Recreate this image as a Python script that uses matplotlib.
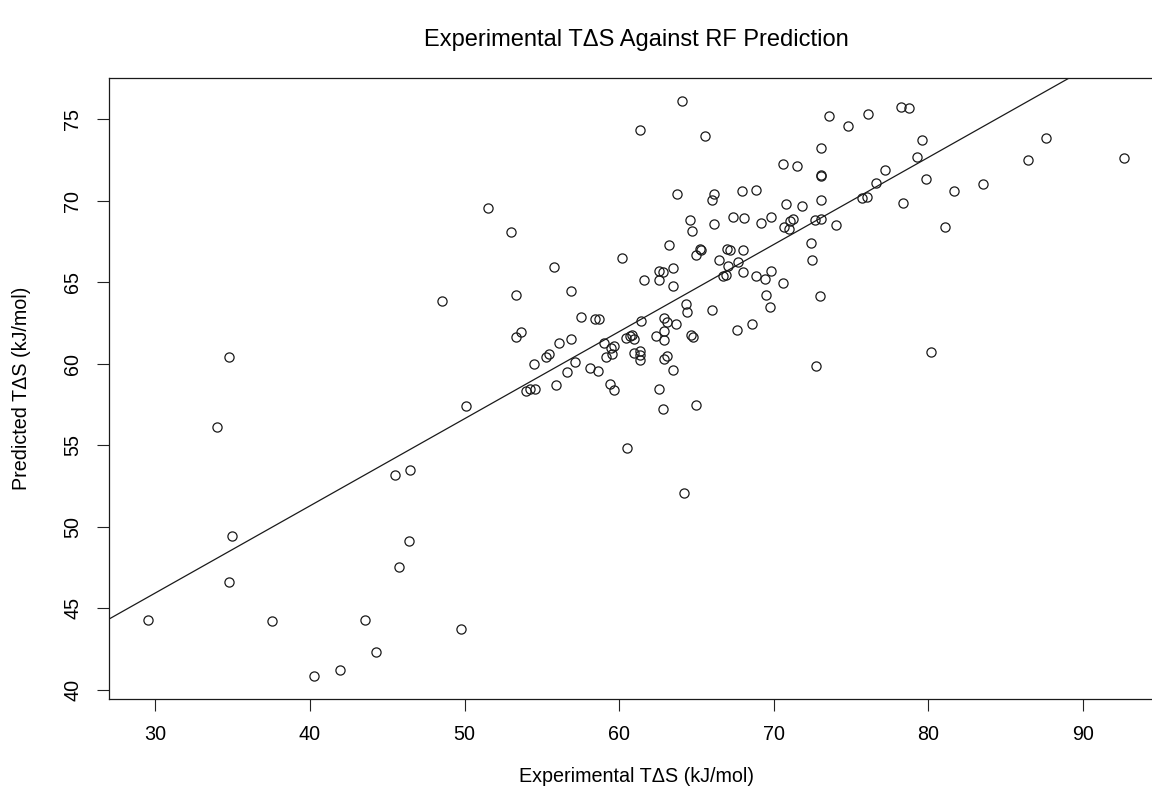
import matplotlib
matplotlib.use("Agg")
import matplotlib.pyplot as plt
import numpy as np

plt.rcParams['font.family'] = ['Liberation Sans', 'DejaVu Sans']

# Experimental TΔS (kJ/mol)
exp_tds = [
    51.55, 53.03, 48.57, 34.79, 33.97, 50.10, 45.51, 46.50, 34.94, 46.44,
    34.75, 45.79, 29.51, 37.53, 43.57, 49.78, 44.26, 41.93, 40.25,
    64.07, 61.38, 65.58, 73.56, 73.07, 70.61, 71.53, 73.04, 73.05, 63.77,
    66.16, 66.02, 67.98, 68.84, 73.04, 70.78, 71.86, 64.61, 64.70, 66.14,
    67.35, 68.09, 69.18, 69.85, 70.69, 71.00, 71.06, 71.26, 72.65, 73.07,
    63.21, 65.25, 65.30, 65.00, 67.00, 67.15, 68.00, 72.42, 72.50, 66.49,
    67.02, 67.67, 66.75, 66.90, 68.00, 68.84, 69.46, 69.85, 70.63, 73.02,
    69.48, 69.77, 60.19, 55.81, 53.34, 56.91, 61.59, 62.59, 62.60, 62.85,
    63.49, 63.47, 57.52, 58.45, 58.70, 61.44, 64.35, 64.37, 65.99, 68.60,
    62.89, 63.08, 63.69, 67.63, 53.34, 53.64, 56.09, 56.90, 59.00, 59.50,
    59.70, 59.55, 59.18, 60.47, 60.84, 60.94, 60.73, 62.39, 62.91, 62.91,
    64.65, 64.80, 60.99, 61.38, 61.38, 61.38, 62.90, 63.10, 63.47, 54.50,
    55.30, 55.49, 57.13, 56.61, 58.10, 58.64, 54.00, 54.26, 54.57, 55.90,
    59.44, 59.70, 62.59, 62.87, 65.00, 72.74, 60.54, 64.22,
    74.81, 76.13, 78.26, 78.76, 79.60, 87.64, 79.30, 86.47, 92.68, 77.23,
    76.64, 79.88, 83.54, 81.64, 75.74, 76.06, 78.39, 74.06, 81.06, 80.18,
]

# Predicted TΔS (kJ/mol)
pred_tds = [
    69.54, 68.07, 63.82, 60.43, 56.13, 57.42, 53.19, 53.47, 49.39, 49.11,
    46.61, 47.50, 44.29, 44.23, 44.27, 43.72, 42.33, 41.22, 40.86,
    76.13, 74.32, 73.99, 75.19, 73.21, 72.23, 72.13, 71.60, 71.50, 70.40,
    70.40, 70.03, 70.58, 70.64, 70.01, 69.80, 69.66, 68.81, 68.11, 68.56,
    68.97, 68.95, 68.64, 68.99, 68.41, 68.25, 68.76, 68.90, 68.82, 68.90,
    67.27, 67.05, 66.95, 66.66, 67.05, 66.95, 66.97, 67.38, 66.33, 66.33,
    66.01, 66.25, 65.35, 65.45, 65.62, 65.38, 65.19, 65.70, 64.95, 64.17,
    64.21, 63.45, 66.45, 65.93, 64.21, 64.46, 65.15, 65.15, 65.65, 65.60,
    65.84, 64.76, 62.87, 62.72, 62.72, 62.64, 63.64, 63.15, 63.29, 62.44,
    62.80, 62.54, 62.44, 62.03, 61.64, 61.92, 61.29, 61.48, 61.29, 60.95,
    61.10, 60.60, 60.39, 61.54, 61.78, 61.52, 61.68, 61.72, 61.98, 61.43,
    61.75, 61.60, 60.66, 60.80, 60.50, 60.23, 60.30, 60.45, 59.62, 59.99,
    60.39, 60.56, 60.09, 59.47, 59.70, 59.52, 58.33, 58.46, 58.41, 58.66,
    58.74, 58.37, 58.46, 57.23, 57.45, 59.86, 54.84, 52.06,
    74.56, 75.33, 75.76, 75.66, 73.70, 73.86, 72.68, 72.50, 72.62, 71.87,
    71.11, 71.32, 71.03, 70.58, 70.15, 70.23, 69.88, 68.50, 68.40, 60.74,
]

# Fitted line (intercept, slope)
line_intercept = 29.89
line_slope = 0.5345

x_ticks = [30, 40, 50, 60, 70, 80, 90]
y_ticks = [40, 45, 50, 55, 60, 65, 70, 75]

W, H = 1152, 794
fig = plt.figure(figsize=(W / 100, H / 100), dpi=100)
ax_left, ax_right = 108.7, 1163.4
ax_top, ax_bot = 77.7, 698.5
ax = fig.add_axes([ax_left / W, 1 - ax_bot / H, (ax_right - ax_left) / W, (ax_bot - ax_top) / H])

x = np.array(exp_tds)
y = np.array(pred_tds)
ax.plot(x, y, linestyle='none', marker='o', ms=6.6, mfc='none', mec='#1a1a1a', mew=0.9)
ax.axline((0, line_intercept), slope=line_slope, color='#1a1a1a', lw=0.9)

rx = x.max() - x.min()
ry = y.max() - y.min()
ax.set_xlim(x.min() - 0.04 * rx, x.max() + 0.04 * rx)
ax.set_ylim(y.min() - 0.04 * ry, y.max() + 0.04 * ry)

ax.set_xticks(x_ticks)
ax.set_yticks(y_ticks)
ax.tick_params(direction='out', length=8.6, width=0.8, labelsize=14.2, color='#222222')
ax.tick_params(axis='x', pad=10.5)
ax.tick_params(axis='y', pad=10.5, labelrotation=90)
for lbl in ax.get_yticklabels():
    lbl.set_va('center')

for s in ax.spines.values():
    s.set_linewidth(0.9)
    s.set_color('#1a1a1a')

ax.set_xlabel('Experimental TΔS (kJ/mol)', fontsize=14.2, va='center')
ax.xaxis.set_label_coords(0.5, -(777 - ax_bot) / (ax_bot - ax_top))
ax.set_ylabel('Predicted TΔS (kJ/mol)', fontsize=14.2, va='center')
ax.yaxis.set_label_coords((22 - ax_left) / (ax_right - ax_left), 0.5)

ax.set_title('Experimental TΔS Against RF Prediction', fontsize=17, pad=0,
             y=1 + (ax_top - 46) / (ax_bot - ax_top))

fig.savefig('out.png', dpi=100)
